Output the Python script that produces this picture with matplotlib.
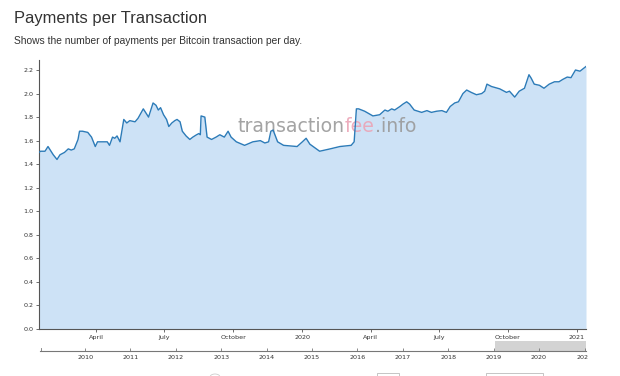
import matplotlib
matplotlib.use('Agg')
import matplotlib.pyplot as plt
import matplotlib.dates as mdates
import numpy as np
import pandas as pd
from matplotlib.offsetbox import TextArea, HPacker, AnnotationBbox
from matplotlib.patches import Rectangle, Circle
from matplotlib.transforms import Bbox, TransformedBbox

# ---- data ----
dates = [
    "2019-01-15", "2019-01-17", "2019-01-23", "2019-01-27", "2019-02-03", "2019-02-08",
    "2019-02-12", "2019-02-18", "2019-02-23", "2019-02-27", "2019-03-03", "2019-03-08",
    "2019-03-10", "2019-03-14", "2019-03-21", "2019-03-26", "2019-03-31", "2019-04-03",
    "2019-04-10", "2019-04-16", "2019-04-19", "2019-04-23", "2019-04-26", "2019-04-29",
    "2019-05-03", "2019-05-08", "2019-05-12", "2019-05-16", "2019-05-23", "2019-05-27",
    "2019-06-03", "2019-06-10", "2019-06-16", "2019-06-20", "2019-06-23", "2019-06-26",
    "2019-06-30", "2019-07-04", "2019-07-07", "2019-07-11", "2019-07-15", "2019-07-18",
    "2019-07-22", "2019-07-25", "2019-07-30", "2019-08-04", "2019-08-08", "2019-08-13",
    "2019-08-16", "2019-08-18", "2019-08-19", "2019-08-24", "2019-08-27", "2019-09-02",
    "2019-09-08", "2019-09-13", "2019-09-19", "2019-09-24", "2019-09-28", "2019-10-05",
    "2019-10-16", "2019-10-27", "2019-11-06", "2019-11-12", "2019-11-17", "2019-11-20",
    "2019-11-23", "2019-11-29", "2019-12-07", "2019-12-25", "2020-01-01", "2020-01-06",
    "2020-01-11", "2020-01-24", "2020-02-07", "2020-02-20", "2020-03-06", "2020-03-10",
    "2020-03-13", "2020-03-16", "2020-03-24", "2020-04-04", "2020-04-13", "2020-04-20",
    "2020-04-24", "2020-04-29", "2020-05-03", "2020-05-10", "2020-05-14", "2020-05-19",
    "2020-05-23", "2020-05-29", "2020-06-08", "2020-06-15", "2020-06-21", "2020-06-28",
    "2020-07-05", "2020-07-11", "2020-07-16", "2020-07-22", "2020-07-27", "2020-08-02",
    "2020-08-07", "2020-08-13", "2020-08-20", "2020-08-27", "2020-08-31", "2020-09-03",
    "2020-09-09", "2020-09-20", "2020-09-29", "2020-10-03", "2020-10-10", "2020-10-16",
    "2020-10-23", "2020-10-29", "2020-11-01", "2020-11-05", "2020-11-12", "2020-11-18",
    "2020-11-25", "2020-12-02", "2020-12-08", "2020-12-13", "2020-12-19", "2020-12-24",
    "2020-12-30", "2021-01-05", "2021-01-09", "2021-01-13",
]
values = [
    1.50, 1.51, 1.51, 1.55, 1.48, 1.44,
    1.48, 1.50, 1.53, 1.52, 1.53, 1.61,
    1.68, 1.68, 1.67, 1.63, 1.55, 1.59,
    1.59, 1.59, 1.56, 1.63, 1.62, 1.64,
    1.59, 1.78, 1.75, 1.77, 1.76, 1.79,
    1.87, 1.80, 1.92, 1.90, 1.86, 1.88,
    1.82, 1.78, 1.72, 1.75, 1.77, 1.78,
    1.76, 1.68, 1.64, 1.61, 1.63, 1.65,
    1.66, 1.65, 1.81, 1.80, 1.63, 1.61,
    1.63, 1.65, 1.63, 1.68, 1.63, 1.59,
    1.56, 1.59, 1.60, 1.58, 1.59, 1.68,
    1.69, 1.59, 1.56, 1.55, 1.59, 1.62,
    1.57, 1.51, 1.53, 1.55, 1.56, 1.59,
    1.87, 1.87, 1.85, 1.81, 1.82, 1.86,
    1.85, 1.87, 1.86, 1.89, 1.91, 1.93,
    1.91, 1.86, 1.84, 1.855, 1.84, 1.85,
    1.855, 1.84, 1.89, 1.92, 1.93, 2.00,
    2.03, 2.01, 1.99, 2.00, 2.02, 2.08,
    2.06, 2.04, 2.01, 2.02, 1.97, 2.02,
    2.045, 2.16, 2.13, 2.08, 2.07, 2.045,
    2.08, 2.10, 2.10, 2.12, 2.14, 2.135,
    2.20, 2.19, 2.21, 2.23,
]
y_ticks = [0.0, 0.2, 0.4, 0.6, 0.8, 1.0, 1.2, 1.4, 1.6, 1.8, 2.0, 2.2]
x_tick_dates = ["2019-04-01", "2019-07-01", "2019-10-01", "2020-01-01",
                "2020-04-01", "2020-07-01", "2020-10-01", "2021-01-01"]
x_tick_labels = ["April", "July", "October", "2020", "April", "July", "October", "2021"]
nav_years = list(range(2010, 2022))
nav_start = "2009-01-03"

title = "Payments per Transaction"
subtitle = "Shows the number of payments per Bitcoin transaction per day."

# ---- figure ----
W, H = 620, 376
fig = plt.figure(figsize=(W / 100, H / 100), dpi=100)
fig.patch.set_facecolor('white')

def fx(px):
    return px / W

def fy(py):
    return 1 - py / H

d = pd.to_datetime(dates)
v = np.array(values)

ax = fig.add_axes([fx(39), fy(329), fx(586) - fx(39), fy(60) - fy(329)])
ax.fill_between(d, v, 0, color='#cde2f6', lw=0, zorder=1)
ax.plot(d, v, color='#2c7bb8', lw=1.0, zorder=3)
ax.set_xlim(d[0], d[-1])
ax.set_ylim(0, 2.285)
ax.set_yticks(y_ticks)
ax.set_yticklabels([f"{t:.1f}" for t in y_ticks])
ax.set_xticks(pd.to_datetime(x_tick_dates))
ax.set_xticklabels(x_tick_labels)
for s in ['top', 'right']:
    ax.spines[s].set_visible(False)
for s in ['left', 'bottom']:
    ax.spines[s].set_color('#555555')
    ax.spines[s].set_linewidth(0.8)
ax.tick_params(axis='both', labelsize=4.6, colors='#555555', length=2.5, width=0.6, pad=1.5)
ax.tick_params(axis='both', labelcolor='#333333')
ax.set_facecolor('white')

# watermark
ta1 = TextArea("transaction", textprops=dict(color='#9a9a9a', fontsize=13.6, family='DejaVu Sans', alpha=0.9))
ta2 = TextArea("fee", textprops=dict(color='#eba4b6', fontsize=13.6, family='DejaVu Sans', alpha=0.9))
ta3 = TextArea(".info", textprops=dict(color='#9a9a9a', fontsize=13.6, family='DejaVu Sans', alpha=0.9))
pack = HPacker(children=[ta1, ta2, ta3], sep=0, pad=0, align='baseline')
ab = AnnotationBbox(pack, (fx(327), fy(127)), xycoords='figure fraction', frameon=False,
                    box_alignment=(0.5, 0.5), zorder=2)
ax.add_artist(ab)

# navigator
nav = fig.add_axes([fx(40), fy(351), fx(586) - fx(40), fy(340.5) - fy(351)])
nav_lo = pd.Timestamp(nav_start)
nav_hi = d[-1]
nav.set_xlim(nav_lo, nav_hi)
nav.set_ylim(0, 1)
nav.add_patch(Rectangle((mdates.date2num(d[0]), 0), mdates.date2num(nav_hi) - mdates.date2num(d[0]), 1,
                        facecolor='#d3d3d3', edgecolor='none', zorder=1))
for s in ['top', 'right', 'left']:
    nav.spines[s].set_visible(False)
nav.spines['bottom'].set_color('#777777')
nav.spines['bottom'].set_linewidth(0.8)
nav.set_yticks([])
nav.set_xticks(pd.to_datetime([f"{y}-01-01" for y in nav_years]))
nav.set_xticklabels([str(y) for y in nav_years])
nav.tick_params(axis='x', labelsize=4.6, colors='#777777', labelcolor='#333333',
                length=2.5, width=0.6, direction='in', pad=3)
nav.set_facecolor('none')
# left end tick of the navigator
fig.add_artist(plt.Line2D([fx(40.5), fx(40.5)], [fy(351), fy(348)], color='#777777', lw=0.6))
for lab in nav.get_xticklabels():
    lab.set_clip_box(TransformedBbox(Bbox([[0, 0], [fx(588), 1]]), fig.transFigure))
    lab.set_clip_on(True)

# titles
fig.text(fx(14), fy(19), title, fontsize=11.9, family='Liberation Sans', color='#333333', va='center', ha='left')
fig.text(fx(14), fy(41), subtitle, fontsize=7.4, family='Liberation Sans', color='#333333', va='center', ha='left')

# partial UI controls at the bottom edge
fig.add_artist(Circle((fx(215), fy(377)), 0.008, transform=fig.transFigure, facecolor='none', edgecolor='#cccccc', lw=0.6))
fig.add_artist(Rectangle((fx(377), fy(380)), fx(22), fy(373) - fy(380), transform=fig.transFigure,
                         facecolor='none', edgecolor='#bbbbbb', lw=0.6))
fig.add_artist(Rectangle((fx(486), fy(380)), fx(57), fy(373) - fy(380), transform=fig.transFigure,
                         facecolor='none', edgecolor='#bbbbbb', lw=0.6))

fig.savefig('out.png', dpi=100, facecolor='white')
